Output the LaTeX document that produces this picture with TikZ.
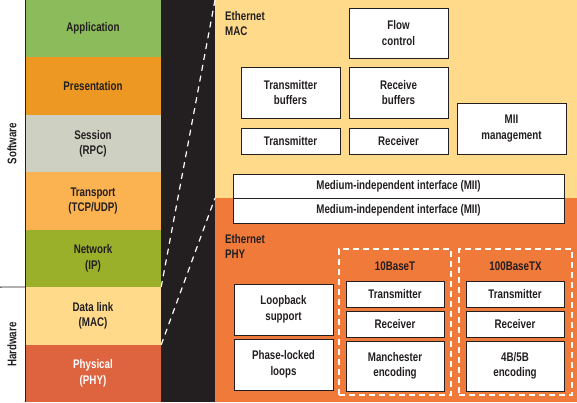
\documentclass[tikz,border=0pt]{standalone}
\usepackage{fontspec}
\setmainfont{Liberation Sans}[FakeStretch=0.78]
\usepackage{tikz}
\usetikzlibrary{arrows,shapes}
\definecolor{appgreen}{RGB}{139,187,90}
\definecolor{presorange}{RGB}{236,152,34}
\definecolor{sessgray}{RGB}{206,208,193}
\definecolor{transorange}{RGB}{251,178,80}
\definecolor{netgreen}{RGB}{155,176,42}
\definecolor{dlyellow}{RGB}{254,218,138}
\definecolor{phyred}{RGB}{222,100,64}
\definecolor{phyorange}{RGB}{240,122,58}
\definecolor{darkbg}{RGB}{35,31,32}

\begin{document}
\begin{tikzpicture}[x=1pt,y=-1pt,font=\bfseries\fontsize{12.5}{15.5}\selectfont,text=darkbg]
 \tikzstyle{layer}=[draw=none,inner sep=0pt,minimum width=136pt,minimum height=57.43pt,align=center]
 \tikzstyle{panel}=[draw=none,inner sep=0pt,anchor=north west]
 \tikzstyle{box}=[draw=darkbg,line width=1pt,fill=white,inner sep=0pt,minimum width=99pt,align=center]
 \tikzstyle{group}=[draw=white,dashed,dash pattern=on 6pt off 4pt,line width=1.2pt,inner sep=0pt]
 \tikzstyle{link}=[draw=white,line width=1.2pt,dash pattern=on 6pt off 5pt]

   \useasboundingbox (0,0) rectangle (577,402);
   \fill[white] (0,0) rectangle (25,402);
   \fill[darkbg] (161,0) rectangle (215,402);

   % OSI layers
   \node[layer,fill=appgreen] (app) at (93,28.7) {Application};
   \node[layer,fill=presorange] (pres) at (93,86.1) {Presentation};
   \node[layer,fill=sessgray] (sess) at (93,143.6) {Session\\(RPC)};
   \node[layer,fill=transorange] (trans) at (93,201) {Transport\\(TCP/UDP)};
   \node[layer,fill=netgreen] (net) at (93,258.4) {Network\\(IP)};
   \node[layer,fill=dlyellow] (dl) at (93,315.9) {Data link\\(MAC)};
   \node[layer,fill=phyred,text=white] (phys) at (93,373.3) {Physical\\(PHY)};

   \draw[darkbg,line width=0.8pt] (25,0) -- (25,402);
   \draw[darkbg,line width=0.8pt] (0,287.1) -- (dl.north west);
   \node[rotate=90] (sw) at (12,143.5) {Software};
   \node[rotate=90] (hw) at (12,344.6) {Hardware};

   % Ethernet panels
   \node[panel,fill=dlyellow,minimum width=362pt,minimum height=198pt] (mac) at (215,0) {};
   \node[panel,fill=phyorange,minimum width=362pt,minimum height=204pt] (phy) at (215,198) {};
   \path[link] (dl.north east) -- (mac.north west);
   \path[link] (dl.south east) -- (phy.north west);

   \node[align=left,anchor=north west,inner sep=0pt] (maclbl) at (225,11) {Ethernet\\MAC};
   \node[box,minimum height=50pt] (flow) at (398.5,33) {Flow\\control};
   \node[box,minimum height=51pt] (txbuf) at (290.5,92.5) {Transmitter\\buffers};
   \node[box,minimum height=51pt] (rxbuf) at (398.5,92.5) {Receive\\buffers};
   \node[box,minimum height=26pt] (mactx) at (290.5,141) {Transmitter};
   \node[box,minimum height=26pt] (macrx) at (398.5,141) {Receiver};
   \node[box,minimum width=109pt,minimum height=51pt] (miimgmt) at (511.5,128.5) {MII\\management};
   \node[box,minimum width=331pt,minimum height=24pt] (miitop) at (398.5,186) {Medium-independent interface (MII)};
   \node[box,minimum width=331pt,minimum height=25pt] (miibot) at (398.5,210.5) {Medium-independent interface (MII)};

   \node[align=left,anchor=north west,inner sep=0pt] (phylbl) at (225,234) {Ethernet\\PHY};
   \node[box,minimum height=51pt] (loop) at (283.5,309.5) {Loopback\\support};
   \node[box,minimum height=51pt] (pll) at (283.5,364.5) {Phase-locked\\loops};

   \node[group,minimum width=112pt,minimum height=146pt] (tenbt) at (395,322) {};
   \node (tenlbl) at (395,266) {10BaseT};
   \node[box,minimum width=98pt,minimum height=26pt] (tentx) at (395,294) {Transmitter};
   \node[box,minimum width=98pt,minimum height=26pt] (tenrx) at (395,324) {Receiver};
   \node[box,minimum width=98pt,minimum height=50pt] (tenenc) at (395,366) {Manchester\\encoding};

   \node[group,minimum width=113pt,minimum height=146pt] (hunbt) at (515.5,322) {};
   \node (hunlbl) at (515.5,266) {100BaseTX};
   \node[box,minimum width=98pt,minimum height=26pt] (huntx) at (515,294) {Transmitter};
   \node[box,minimum width=98pt,minimum height=26pt] (hunrx) at (515,324) {Receiver};
   \node[box,minimum width=98pt,minimum height=50pt] (hunenc) at (515,366) {4B/5B\\encoding};
\end{tikzpicture}
\end{document}
